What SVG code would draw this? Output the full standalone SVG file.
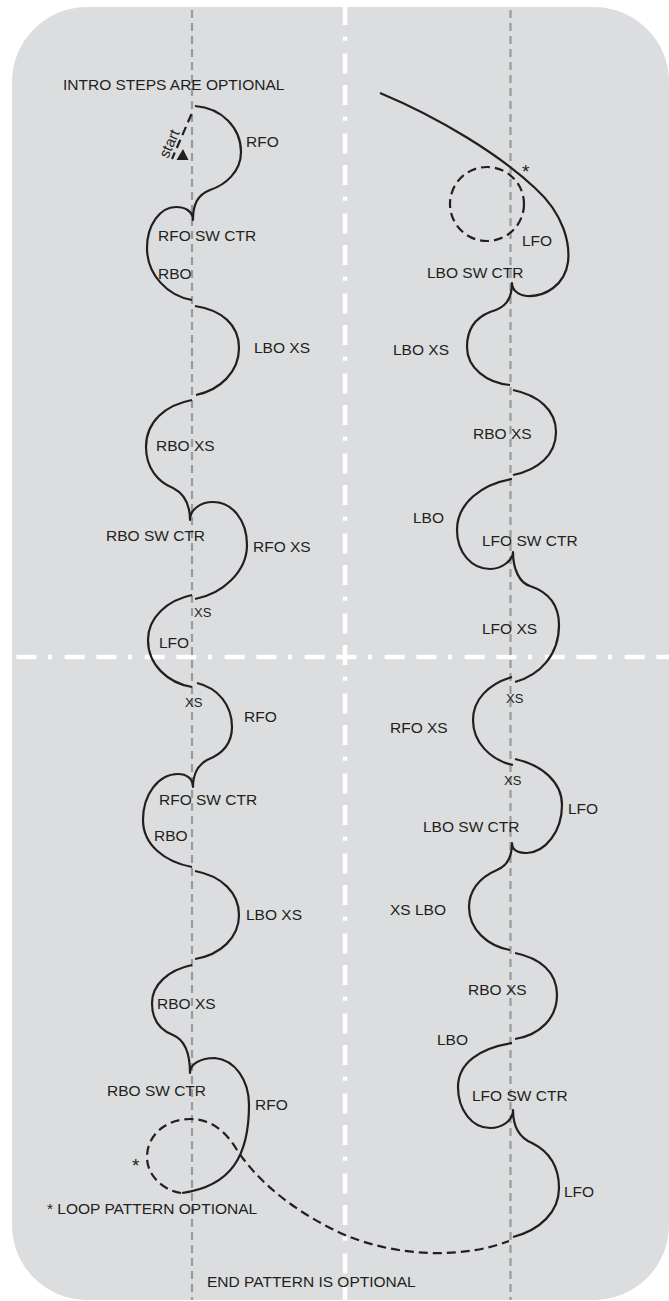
<svg xmlns="http://www.w3.org/2000/svg" width="669" height="1301" viewBox="0 0 669 1301">
<style>
.bg{fill:#dcdddf}
.axis{stroke:#ffffff;stroke-width:4.5;fill:none;stroke-dasharray:4 12.7 20 11.7 20 11.6}
.center{stroke:#9a9a9a;stroke-width:2.2;fill:none;stroke-dasharray:8 5}
.edge{stroke:#231f20;stroke-width:2.2;fill:none;stroke-linecap:butt;stroke-linejoin:round}
.opt{stroke:#231f20;stroke-width:2.2;fill:none;stroke-dasharray:9 5}
text{font-family:"Liberation Sans",Arial,sans-serif;font-size:15.5px;fill:#231f20}
.sm{font-size:13px}
.star{font-size:19px}
</style>
<g id="background">
<rect class="bg" x="12" y="7" width="657" height="1293" rx="75" ry="75"/>
</g>
<g id="axes">
<line class="axis" x1="345" y1="-43.3" x2="345" y2="1300"/>
<line class="axis" x1="-32" y1="657" x2="669" y2="657"/>
<line class="center" x1="192" y1="10" x2="192" y2="1300"/>
<line class="center" x1="510.5" y1="10" x2="510.5" y2="1300"/>
</g>
<g id="connectors">
<g id="left-pattern">
<path class="edge" d="M195,106 C222,108 241,128 241,152 C241,172 225,185 210,190 C197,195 193,205 193,220 C193,212 186,207 176,207 C160,207 147,225 147,248 C147,275 168,296 192,300"/>
<path class="edge" d="M195,306 C222,310 239,325 239,348 C239,372 220,390 196,395"/>
<path class="edge" d="M192,400 C165,405 146,422 146,447 C146,468 158,482 173,488 C185,494 190,505 190,520 C190,510 200,502 213,502 C232,502 247,520 247,545 C247,572 222,594 195,599"/>
<path class="edge" d="M192,595 C168,600 148,617 148,640 C148,665 168,683 192,687"/>
<path class="edge" d="M197,683 C218,688 232,705 232,727 C232,745 220,755 207,760 C198,765 193,775 193,787 C193,778 186,774 178,774 C158,774 143,795 143,820 C143,845 165,862 192,867"/>
<path class="edge" d="M195,871 C222,876 239,893 239,915 C239,938 220,955 195,959"/>
<path class="edge" d="M192,965 C168,970 152,985 152,1003 C152,1020 160,1030 173,1035 C185,1040 190,1055 190,1073 C190,1064 200,1058 215,1058 C235,1060 249,1080 249,1105 C249,1155 232,1186 182,1193"/>
<path class="opt" d="M181,1193 C162,1190 147,1175 147,1157 C147,1136 165,1119 190,1119 C210,1119 225,1130 237,1150 C260,1185 300,1215 345,1235 C400,1258 465,1258 509,1241"/>
<line class="opt" x1="191.5" y1="114" x2="172" y2="159"/>
<polygon points="183,149 176.5,160 188.5,160" fill="#231f20"/>
</g>
<g id="right-pattern">
<path class="edge" d="M380,93 C440,118 500,155 535,188 C565,215 570,245 568,262 C565,285 545,297 527,296 C518,295 512,290 512,283 C512,300 505,308 490,312 C475,318 467,330 467,347 C467,368 487,383 510,385"/>
<circle class="opt" cx="487" cy="204" r="37"/>
<path class="edge" d="M513,390 C538,395 556,410 556,432 C556,455 538,470 513,475"/>
<path class="edge" d="M512,479 C482,484 457,503 457,530 C457,553 472,569 490,569 C502,569 513,560 513,552 C513,570 520,583 530,586 C548,592 559,605 559,625 C559,655 540,675 515,682"/>
<path class="edge" d="M512,677 C488,684 473,700 473,720 C473,742 490,760 513,765"/>
<path class="edge" d="M515,759 C542,765 562,782 562,805 C562,832 545,852 527,853 C518,853 512,850 512,843 C512,858 507,866 497,870 C478,878 469,892 469,907 C469,930 488,946 510,950"/>
<path class="edge" d="M515,953 C540,958 557,972 557,995 C557,1018 540,1035 515,1039"/>
<path class="edge" d="M512,1043 C480,1048 458,1063 458,1087 C458,1110 472,1128 490,1128 C503,1128 513,1120 513,1110 C513,1128 520,1138 532,1143 C550,1152 559,1168 559,1188 C559,1212 540,1230 513,1237"/>
</g>
</g>
<g id="labels-left">
<text x="63" y="90">INTRO STEPS ARE OPTIONAL</text>
<text transform="translate(168,159) rotate(-66)" style="font-size:15px">start</text>
<text x="246" y="147">RFO</text>
<text x="158" y="241">RFO SW CTR</text>
<text x="158" y="279">RBO</text>
<text x="254" y="353">LBO XS</text>
<text x="156" y="451">RBO XS</text>
<text x="106" y="541">RBO SW CTR</text>
<text x="253" y="552">RFO XS</text>
<text class="sm" x="194" y="617">XS</text>
<text x="159" y="648">LFO</text>
<text class="sm" x="185" y="707">XS</text>
<text x="244" y="722">RFO</text>
<text x="159" y="805">RFO SW CTR</text>
<text x="154" y="841">RBO</text>
<text x="246" y="920">LBO XS</text>
<text x="157" y="1009">RBO XS</text>
<text x="107" y="1096">RBO SW CTR</text>
<text x="255" y="1110">RFO</text>
<text class="star" x="132" y="1172">*</text>
<text x="47" y="1214">* LOOP PATTERN OPTIONAL</text>
<text x="207" y="1287">END PATTERN IS OPTIONAL</text>
</g>
<g id="labels-right">
<text class="star" x="522" y="178">*</text>
<text x="522" y="246">LFO</text>
<text x="427" y="278">LBO SW CTR</text>
<text x="393" y="355">LBO XS</text>
<text x="473" y="439">RBO XS</text>
<text x="413" y="523">LBO</text>
<text x="482" y="546">LFO SW CTR</text>
<text x="482" y="634">LFO XS</text>
<text class="sm" x="506" y="703">XS</text>
<text x="390" y="733">RFO XS</text>
<text class="sm" x="504" y="785">XS</text>
<text x="568" y="814">LFO</text>
<text x="423" y="832">LBO SW CTR</text>
<text x="390" y="915">XS LBO</text>
<text x="468" y="995">RBO XS</text>
<text x="437" y="1045">LBO</text>
<text x="472" y="1101">LFO SW CTR</text>
<text x="564" y="1197">LFO</text>
</g>
</svg>
